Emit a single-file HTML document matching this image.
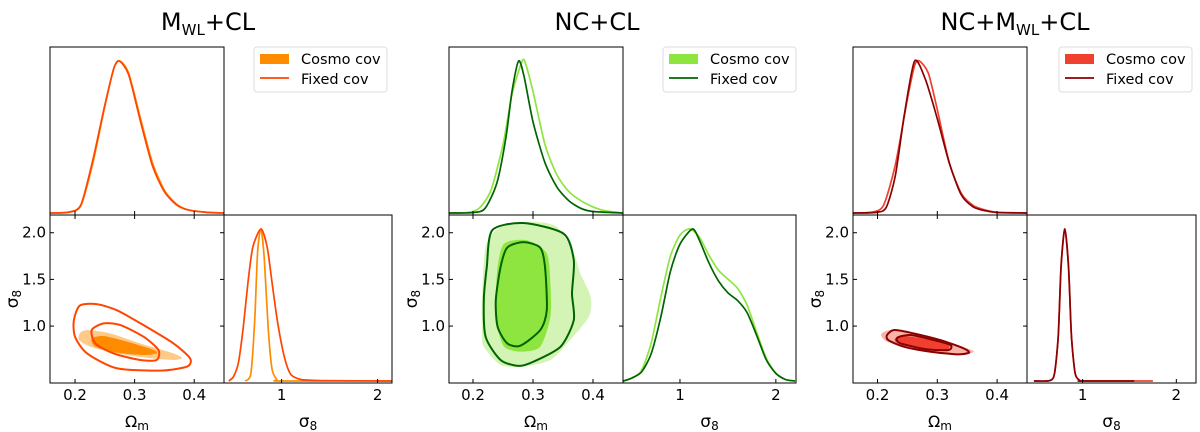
<!DOCTYPE html>
<html><head><meta charset="utf-8"><style>
body{margin:0;background:#fff;}
svg{display:block;font-family:"DejaVu Sans","Liberation Sans",sans-serif;}
</style></head><body>
<svg id="c" width="1200" height="432" viewBox="0 0 1200 432" xmlns="http://www.w3.org/2000/svg"></svg>
<script>
// ---------- data ----------
// Panel 1: M_WL+CL
const p1OmCosmo=[[0.158,0],[0.19,0.005],[0.21,0.05],[0.23,0.33],[0.25,0.7],[0.265,0.95],[0.275,1],[0.29,0.92],[0.31,0.62],[0.33,0.33],[0.35,0.15],[0.37,0.06],[0.39,0.02],[0.42,0.005],[0.45,0]];
const p1OmFixed=[[0.158,0],[0.19,0.006],[0.21,0.055],[0.23,0.35],[0.25,0.71],[0.265,0.95],[0.274,1],[0.29,0.91],[0.31,0.6],[0.33,0.31],[0.35,0.14],[0.37,0.055],[0.39,0.02],[0.42,0.005],[0.45,0]];
const p1S8Cosmo=[[0.62,0],[0.68,0.05],[0.72,0.4],[0.75,0.85],[0.785,1],[0.82,0.8],[0.86,0.35],[0.9,0.08],[0.95,0.01],[1.0,0],[2.15,0]];
const p1S8Fixed=[[0.45,0],[0.5,0.03],[0.55,0.12],[0.6,0.35],[0.65,0.65],[0.7,0.88],[0.785,1],[0.85,0.88],[0.9,0.65],[0.95,0.42],[1.0,0.24],[1.05,0.11],[1.1,0.04],[1.2,0.01],[1.4,0.003],[2.15,0]];
const p1CosmoOuter=[[0.208,0.922],[0.22,0.957],[0.259,0.922],[0.309,0.815],[0.365,0.708],[0.38,0.655],[0.365,0.637],[0.326,0.655],[0.27,0.708],[0.226,0.779],[0.207,0.85]];
const p1CosmoInner=[[0.228,0.868],[0.248,0.893],[0.287,0.833],[0.332,0.744],[0.337,0.708],[0.315,0.69],[0.27,0.715],[0.234,0.779]];
const p1FixedOuter=[[0.198,1.06],[0.208,1.22],[0.236,1.235],[0.27,1.17],[0.315,1.01],[0.365,0.815],[0.393,0.655],[0.388,0.566],[0.343,0.523],[0.27,0.548],[0.22,0.708],[0.2,0.886]];
const p1FixedInner=[[0.228,0.957],[0.248,1.029],[0.276,1.011],[0.315,0.886],[0.34,0.744],[0.337,0.637],[0.309,0.637],[0.264,0.708],[0.234,0.815]];
// Panel 2: NC+CL
const p2OmCosmo=[[0.16,0],[0.19,0.003],[0.21,0.03],[0.23,0.15],[0.25,0.45],[0.265,0.78],[0.28,0.98],[0.286,1],[0.3,0.8],[0.32,0.45],[0.34,0.25],[0.36,0.14],[0.38,0.08],[0.4,0.04],[0.42,0.015],[0.45,0]];
const p2OmFixed=[[0.16,0],[0.2,0.003],[0.22,0.03],[0.24,0.2],[0.255,0.5],[0.265,0.8],[0.276,1],[0.285,0.9],[0.3,0.6],[0.32,0.33],[0.34,0.17],[0.36,0.08],[0.38,0.03],[0.4,0.01],[0.45,0]];
const p2S8Cosmo=[[0.41,0],[0.5,0.02],[0.6,0.07],[0.7,0.25],[0.8,0.55],[0.9,0.82],[1.0,0.96],[1.1,1.0],[1.2,0.95],[1.3,0.83],[1.4,0.73],[1.5,0.67],[1.6,0.61],[1.7,0.5],[1.8,0.32],[1.9,0.15],[2.0,0.05],[2.1,0.01],[2.2,0]];
const p2S8Fixed=[[0.41,0],[0.5,0.02],[0.6,0.06],[0.7,0.18],[0.8,0.42],[0.9,0.72],[1.0,0.9],[1.13,1.0],[1.2,0.93],[1.3,0.78],[1.4,0.66],[1.5,0.58],[1.6,0.53],[1.7,0.45],[1.8,0.3],[1.9,0.14],[2.0,0.05],[2.1,0.01],[2.2,0]];
const p2CosmoOuter=[[0.215,1.278],[0.221,1.848],[0.246,2.061],[0.301,2.115],[0.34,2.061],[0.368,1.777],[0.379,1.563],[0.396,1.314],[0.393,1.099],[0.357,0.815],[0.329,0.637],[0.284,0.566],[0.246,0.584],[0.218,0.779],[0.215,0.922]];
const p2CosmoInner=[[0.241,1.634],[0.252,1.884],[0.29,1.919],[0.323,1.777],[0.329,1.456],[0.329,1.099],[0.312,0.779],[0.279,0.726],[0.252,0.779],[0.241,0.993],[0.238,1.278]];
const p2FixedOuter=[[0.223,1.634],[0.232,2.026],[0.284,2.104],[0.351,1.99],[0.368,1.705],[0.365,1.349],[0.368,1.064],[0.346,0.779],[0.301,0.619],[0.276,0.573],[0.246,0.637],[0.221,0.886],[0.218,1.278]];
const p2FixedInner=[[0.246,1.634],[0.257,1.84],[0.284,1.9],[0.312,1.84],[0.32,1.634],[0.323,1.171],[0.312,0.957],[0.279,0.79],[0.257,0.815],[0.241,0.993],[0.238,1.278]];
// Panel 3: NC+M_WL+CL
const p3OmCosmo=[[0.159,0],[0.19,0.005],[0.21,0.05],[0.23,0.32],[0.25,0.75],[0.262,0.97],[0.27,1],[0.285,0.92],[0.3,0.68],[0.32,0.33],[0.34,0.13],[0.36,0.05],[0.38,0.02],[0.4,0.005],[0.45,0]];
const p3OmFixed=[[0.159,0],[0.2,0.005],[0.215,0.04],[0.23,0.25],[0.245,0.65],[0.262,1],[0.28,0.88],[0.3,0.62],[0.32,0.33],[0.34,0.12],[0.36,0.04],[0.38,0.015],[0.4,0.003],[0.45,0]];
const p3S8Cosmo=[[0.48,0],[0.65,0.003],[0.7,0.05],[0.74,0.3],[0.77,0.75],[0.81,1],[0.85,0.75],[0.88,0.3],[0.92,0.05],[0.97,0.003],[1.0,0],[1.75,0]];
const p3S8Fixed=[[0.48,0],[0.65,0.003],[0.7,0.05],[0.74,0.3],[0.77,0.76],[0.81,1],[0.85,0.74],[0.88,0.3],[0.92,0.05],[0.97,0.003],[1.0,0],[1.55,0]];
const p3CosmoOuter=[[0.207,0.922],[0.221,0.957],[0.255,0.922],[0.305,0.85],[0.35,0.761],[0.361,0.726],[0.344,0.69],[0.294,0.708],[0.249,0.761],[0.216,0.833],[0.207,0.886]];
const p3CosmoInner=[[0.23,0.868],[0.249,0.893],[0.294,0.843],[0.319,0.797],[0.316,0.744],[0.283,0.751],[0.244,0.797],[0.23,0.833]];
const p3FixedOuter=[[0.216,0.904],[0.227,0.957],[0.255,0.929],[0.305,0.85],[0.344,0.761],[0.353,0.715],[0.333,0.697],[0.288,0.726],[0.244,0.779],[0.218,0.85]];
const p3FixedInner=[[0.233,0.875],[0.255,0.904],[0.294,0.85],[0.322,0.797],[0.319,0.744],[0.283,0.751],[0.238,0.815]];

const omTicks=[0.2,0.3,0.4];
const s8YTicks=[1.0,1.5,2.0];
const s8XTicks=[1,2];
const omTickLabels=["0.2","0.3","0.4"];
const s8YTickLabels=["1.0","1.5","2.0"];
const s8XTickLabels=["1","2"];

// ---------- layout / styling ----------
const panels=[
 {id:'mwl-cl',title:'M<tspan font-size="15" dy="5">WL</tspan><tspan dy="-5">+CL</tspan>',tx:208,left:50,dw:174,bw:168,om:[0.158,0.45],s8x:[0.40,2.15],
  cs:'#ff8c00',cl:'#ffc98a',fx:'#ff4500',
  omC:p1OmCosmo,omF:p1OmFixed,s8C:p1S8Cosmo,s8F:p1S8Fixed,co:p1CosmoOuter,ci:p1CosmoInner,fo:p1FixedOuter,fi:p1FixedInner,lg:254},
 {id:'nc-cl',title:'NC+CL',tx:597,left:449,dw:174,bw:173,om:[0.160,0.45],s8x:[0.406,2.21],
  cs:'#8fe53f',cl:'#d3f4b4',fx:'#006400',
  omC:p2OmCosmo,omF:p2OmFixed,s8C:p2S8Cosmo,s8F:p2S8Fixed,co:p2CosmoOuter,ci:p2CosmoInner,fo:p2FixedOuter,fi:p2FixedInner,lg:663},
 {id:'nc-mwl-cl',title:'NC+M<tspan font-size="15" dy="5">WL</tspan><tspan dy="-5">+CL</tspan>',tx:1015,left:853,dw:174,bw:169,om:[0.159,0.45],s8x:[0.406,2.21],
  cs:'#ef4030',cl:'#f8b4a8',fx:'#8b0000',
  omC:p3OmCosmo,omF:p3OmFixed,s8C:p3S8Cosmo,s8F:p3S8Fixed,co:p3CosmoOuter,ci:p3CosmoInner,fo:p3FixedOuter,fi:p3FixedInner,lg:1059}
];
const TOP=47,H=168,S8Y=[0.39,2.19];
const NS='http://www.w3.org/2000/svg';
const svg=document.getElementById('c');
function mk(tag,attrs,parent){const e=document.createElementNS(NS,tag);for(const k in attrs)e.setAttribute(k,attrs[k]);(parent||svg).appendChild(e);return e;}
function lin(d,r){return v=>r[0]+(v-d[0])/(d[1]-d[0])*(r[1]-r[0]);}
function smooth(pts,closed){
 const n=pts.length;if(n<2)return'';
 const K=8;
 const g=i=>closed?pts[(i+n)%n]:pts[Math.max(0,Math.min(n-1,i))];
 let d='M'+pts[0][0].toFixed(2)+','+pts[0][1].toFixed(2);
 const m=closed?n:n-1;
 for(let i=0;i<m;i++){const p0=g(i-1),p1=g(i),p2=g(i+1),p3=g(i+2);
  const c1=[p1[0]+(p2[0]-p0[0])/K,p1[1]+(p2[1]-p0[1])/K],c2=[p2[0]-(p3[0]-p1[0])/K,p2[1]-(p3[1]-p1[1])/K];
  d+='C'+c1.map(v=>v.toFixed(2)).join(',')+' '+c2.map(v=>v.toFixed(2)).join(',')+' '+p2[0].toFixed(2)+','+p2[1].toFixed(2);}
 return d+(closed?'Z':'');
}
panels.forEach(P=>{
 const g=mk('g',{});
 
 
 const t=mk('text',{x:P.tx,y:30,'text-anchor':'middle','font-size':24,fill:'#000'},g);
 t.innerHTML=P.title;
 
 
 const L=P.left,R=L+P.dw,R2=R+P.bw,B1=TOP+H,B2=B1+H;
 const xOm=lin(P.om,[L,R]);
 const yS8=lin(S8Y,[B2,B1]);
 const xS8=lin(P.s8x,[R,R2]);
 const d1=mk('g',{},g);
 
 
 const yD1=lin([0,1],[B1-2,TOP+14]);
 [[P.omC,P.cs,'cosmo'],[P.omF,P.fx,'fixed']].forEach(([a,c,n])=>{
  const p=mk('path',{d:smooth(a.map(q=>[xOm(q[0]),yD1(q[1])]),false),fill:'none',stroke:c,'stroke-width':1.7},d1);
  
  
 });
 const r1=mk('rect',{x:L,y:TOP,width:P.dw,height:H,fill:'none',stroke:'#000','stroke-width':1},d1);
 
 
 omTicks.forEach(v=>{mk('line',{x1:xOm(v),x2:xOm(v),y1:B1,y2:B1-4,stroke:'#000'},d1);});
 const d2=mk('g',{},g);
 
 
 const clip='clip-'+P.id;
 const cp=mk('clipPath',{id:clip},svg);mk('rect',{x:L,y:B1,width:P.dw,height:H},cp);
 const cg=mk('g',{'clip-path':'url(#'+clip+')'},d2);
 const pp=a=>smooth(a.map(q=>[xOm(q[0]),yS8(q[1])]),true);
 let e=mk('path',{d:pp(P.co),fill:P.cl,stroke:'none'},cg);
 
 
 e=mk('path',{d:pp(P.ci),fill:P.cs,stroke:'none'},cg);
 
 
 e=mk('path',{d:pp(P.fo),fill:'none',stroke:P.fx,'stroke-width':2},cg);
 
 
 e=mk('path',{d:pp(P.fi),fill:'none',stroke:P.fx,'stroke-width':2},cg);
 
 
 mk('rect',{x:L,y:B1,width:P.dw,height:H,fill:'none',stroke:'#000'},d2);
 omTicks.forEach((v,i)=>{
  mk('line',{x1:xOm(v),x2:xOm(v),y1:B2,y2:B2-4,stroke:'#000'},d2);
  mk('line',{x1:xOm(v),x2:xOm(v),y1:B1,y2:B1+4,stroke:'#000'},d2);
  const tl=mk('text',{x:xOm(v),y:B2+17,'text-anchor':'middle','font-size':15},d2);
  tl.textContent=omTickLabels[i];
  
  
 });
 s8YTicks.forEach((v,i)=>{
  mk('line',{x1:L,x2:L+4,y1:yS8(v),y2:yS8(v),stroke:'#000'},d2);
  mk('line',{x1:R,x2:R-4,y1:yS8(v),y2:yS8(v),stroke:'#000'},d2);
  const tl=mk('text',{x:L-4,y:yS8(v)+5,'text-anchor':'end','font-size':15},d2);
  tl.textContent=s8YTickLabels[i];
  
  
 });
 let xl=mk('text',{x:(L+R)/2,y:B2+44,'text-anchor':'middle','font-size':16},d2);
 xl.innerHTML='Ω<tspan font-size="12" dy="3">m</tspan>';
 
 
 let yl=mk('text',{x:0,y:0,'text-anchor':'middle','font-size':17,transform:'translate('+(L-32)+','+((B1+B2)/2)+') rotate(-90)'},d2);
 yl.innerHTML='σ<tspan font-size="12" dy="3">8</tspan>';
 
 
 const d3=mk('g',{},g);
 
 
 const yD3=lin([0,1],[B2-2,B1+14]);
 [[P.s8C,P.cs,'cosmo'],[P.s8F,P.fx,'fixed']].forEach(([a,c,n])=>{
  const p=mk('path',{d:smooth(a.map(q=>[xS8(q[0]),yD3(q[1])]),false),fill:'none',stroke:c,'stroke-width':1.7},d3);
  
  
 });
 mk('rect',{x:R,y:B1,width:P.bw,height:H,fill:'none',stroke:'#000'},d3);
 s8XTicks.forEach((v,i)=>{
  mk('line',{x1:xS8(v),x2:xS8(v),y1:B2,y2:B2-4,stroke:'#000'},d3);
  const tl=mk('text',{x:xS8(v),y:B2+17,'text-anchor':'middle','font-size':15},d3);
  tl.textContent=s8XTickLabels[i];
  
  
 });
 xl=mk('text',{x:(R+R2)/2,y:B2+44,'text-anchor':'middle','font-size':17},d3);
 xl.innerHTML='σ<tspan font-size="12" dy="3">8</tspan>';
 
 
 const lg=mk('g',{},g);
 
 
 const lx=P.lg;
 mk('rect',{x:lx,y:TOP,width:133,height:45,rx:3,fill:'#fff',stroke:'#ddd'},lg);
 mk('rect',{x:lx+6,y:TOP+7,width:29,height:10,fill:P.cs},lg);
 mk('line',{x1:lx+6,x2:lx+35,y1:TOP+31,y2:TOP+31,stroke:P.fx,'stroke-width':1.8},lg);
 let t1=mk('text',{x:lx+47,y:TOP+17,'font-size':14.5},lg);t1.textContent='Cosmo cov';
 
 
 let t2=mk('text',{x:lx+47,y:TOP+37,'font-size':14.5},lg);t2.textContent='Fixed cov';
 
 
});
</script>
</body></html>
